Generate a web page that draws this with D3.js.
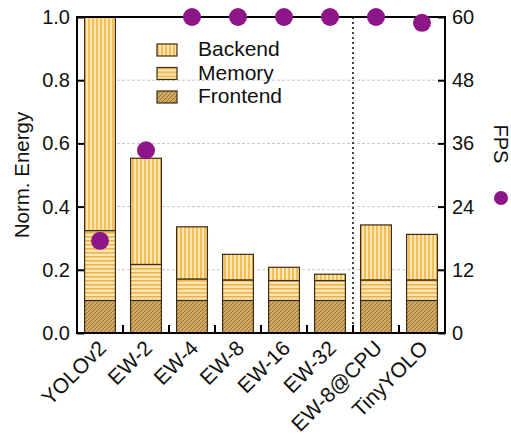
<!DOCTYPE html>
<html><head><meta charset="utf-8">
<script src="https://cdn.jsdelivr.net/npm/d3@7"></script>
<style>body{margin:0;background:#fff}svg{font-family:"Liberation Sans",Arial,sans-serif}</style>
</head><body><svg id="c" width="511" height="437"></svg>
<script>
const categories = ["YOLOv2","EW-2","EW-4","EW-8","EW-16","EW-32","EW-8@CPU","TinyYOLO"];
const frontend = [0.103,0.103,0.103,0.103,0.103,0.103,0.103,0.103];
const memory   = [0.221,0.114,0.068,0.065,0.063,0.063,0.065,0.065];
const backend  = [0.676,0.336,0.165,0.081,0.042,0.020,0.174,0.144];
const fps      = [17.5,34.7,60,60,60,60,60,58.9];
const leftTicks = [0,0.2,0.4,0.6,0.8,1.0];
const rightTicks = [0,12,24,36,48,60];
const seriesNames = ["Backend","Memory","Frontend"];

const svg = d3.select("#c");
const L=77,R=445,T=17,B=333;
const x = d3.scaleBand().domain(categories).range([L,R]).paddingInner(0.33).paddingOuter(0.165);
const xs = d3.scaleBand().domain(categories).range([L,R]);
const y = d3.scaleLinear().domain([0,1]).range([B,T]);
const y2 = d3.scaleLinear().domain([0,60]).range([B,T]);

const defs = svg.append("defs");
let p = defs.append("pattern").attr("id","pb").attr("patternUnits","userSpaceOnUse").attr("width",4).attr("height",4);
p.append("rect").attr("width",4).attr("height",4).attr("fill","#fde6b2");
p.append("rect").attr("x",0).attr("width",2).attr("height",4).attr("fill","#f5bd55");
p = defs.append("pattern").attr("id","pm").attr("patternUnits","userSpaceOnUse").attr("width",4).attr("height",4);
p.append("rect").attr("width",4).attr("height",4).attr("fill","#fde6b2");
p.append("rect").attr("y",0).attr("width",4).attr("height",1.6).attr("fill","#f0b24a");
p = defs.append("pattern").attr("id","pf").attr("patternUnits","userSpaceOnUse").attr("width",4).attr("height",4);
p.append("rect").attr("width",4).attr("height",4).attr("fill","#d2a964");
p.append("path").attr("d","M-1,1 l2,-2 M0,4 l4,-4 M3,5 l2,-2").attr("stroke","#9a7434").attr("stroke-width",1);
const fills = {Backend:"url(#pb)",Memory:"url(#pm)",Frontend:"url(#pf)"};

svg.append("g").selectAll("line").data(leftTicks.filter(d=>d>0&&d<1)).join("line")
  .attr("x1",L).attr("x2",R).attr("y1",d=>y(d)).attr("y2",d=>y(d))
  .attr("stroke","#c8c8c8").attr("stroke-width",1).attr("stroke-dasharray","3,2");

const rows = categories.map((c,i)=>({cat:c,Frontend:frontend[i],Memory:memory[i],Backend:backend[i]}));
const stack = d3.stack().keys(["Frontend","Memory","Backend"])(rows);
svg.append("g").selectAll("g").data(stack).join("g")
  .attr("fill",d=>fills[d.key])
  .selectAll("rect").data(d=>d).join("rect")
  .attr("x",d=>x(d.data.cat)).attr("width",x.bandwidth())
  .attr("y",d=>y(d[1])).attr("height",d=>y(d[0])-y(d[1]))
  .attr("stroke","#3b2c12").attr("stroke-width",1.2);

svg.append("line").attr("x1",xs("EW-8@CPU")).attr("x2",xs("EW-8@CPU")).attr("y1",T).attr("y2",B)
  .attr("stroke","#444").attr("stroke-width",2).attr("stroke-dasharray","2,3");

svg.append("rect").attr("x",L).attr("y",T).attr("width",R-L).attr("height",B-T).attr("fill","none").attr("stroke","#000").attr("stroke-width",2);

const ga = svg.append("g").attr("transform",`translate(${L},0)`)
  .call(d3.axisLeft(y).tickValues(leftTicks).tickFormat(d3.format(".1f")).tickSizeInner(-7).tickSizeOuter(0));
ga.select(".domain").remove();
ga.selectAll("line").attr("stroke-width",2);
ga.selectAll("text").attr("font-size",20).attr("x",-7).attr("fill","#111");
ga.attr("font-family",null);

const gr = svg.append("g").attr("transform",`translate(${R},0)`)
  .call(d3.axisRight(y2).tickValues(rightTicks).tickSizeInner(-7).tickSizeOuter(0));
gr.select(".domain").remove();
gr.selectAll("line").attr("stroke-width",2);
gr.selectAll("text").attr("font-size",20).attr("x",7).attr("fill","#111");
gr.attr("font-family",null);

svg.append("g").selectAll("line").data(categories.slice(1)).join("line")
  .attr("x1",d=>xs(d)).attr("x2",d=>xs(d)).attr("y1",B).attr("y2",B-8)
  .attr("stroke","#000").attr("stroke-width",2);

svg.append("g").selectAll("text").data(categories).join("text")
  .attr("transform",d=>`translate(${xs(d)+xs.bandwidth()/2-3},${B+6}) rotate(-45)`)
  .attr("text-anchor","end").attr("dy","0.7em").attr("font-size",21).attr("fill","#111").text(d=>d);

svg.append("g").selectAll("circle").data(fps).join("circle")
  .attr("cx",(d,i)=>xs(categories[i])+xs.bandwidth()/2).attr("cy",d=>y2(d)).attr("r",9)
  .attr("fill","#8e1587");

svg.append("text").attr("transform",`translate(29,175) rotate(-90)`).attr("text-anchor","middle")
  .attr("font-size",20.5).attr("fill","#111").text("Norm. Energy");
svg.append("text").attr("transform",`translate(494,144) rotate(90)`).attr("text-anchor","middle")
  .attr("font-size",20).attr("fill","#111").text("FPS");
svg.append("circle").attr("cx",501).attr("cy",198).attr("r",7).attr("fill","#8e1587");

const lg = svg.append("g").selectAll("g").data(seriesNames).join("g")
  .attr("transform",(d,i)=>`translate(157,${44+i*23.5})`);
lg.append("rect").attr("width",20).attr("height",12).attr("fill",d=>fills[d]).attr("stroke","#3b2c12").attr("stroke-width",1.2);
lg.append("text").attr("x",41).attr("y",5).attr("dy","0.35em").attr("font-size",21).attr("fill","#111").text(d=>d);
</script></body></html>
